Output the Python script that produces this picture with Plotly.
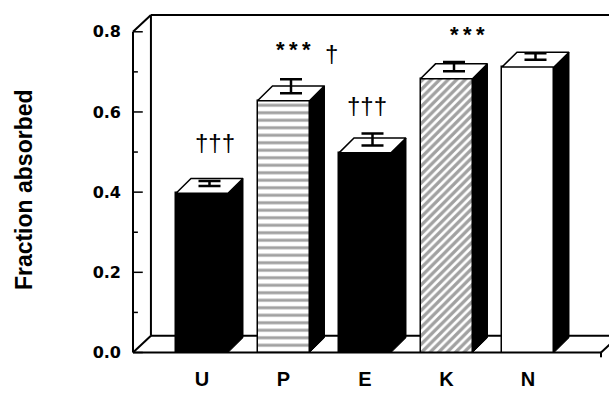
import plotly.graph_objects as go

# ---- data ----
categories = ["U", "P", "E", "K", "N"]
fraction = [0.397, 0.628, 0.498, 0.683, 0.712]
sem = [0.012, 0.035, 0.030, 0.023, 0.016]
fills = ["black", "white", "black", "white", "white"]
patterns = ["", "-", "", "/", ""]
sig_text = ["†††", "*\u2009*\u2009*", "†", "†††", "*\u2009*\u2009*"]
sig_x = [0.16, 1.117, 1.59, 2.025, 3.258]
sig_y = [0.523, 0.759, 0.747, 0.615, 0.794]
y_ticks = [0.0, 0.2, 0.4, 0.6, 0.8]
y_minor = [0.1, 0.3, 0.5, 0.7]

# ---- geometry (style) ----
xpos = list(range(len(categories)))
W = 0.638              # bar front width (x units)
DX, DY = 0.184, 0.037  # bar depth offsets
WX, WY = 0.22, 0.042   # wall depth offsets
X0, X1 = -0.9448, 4.9939
Y0, Y1 = -0.0212, 0.8693
XL = -0.8466           # front-left axis position
XR = 4.896             # front-right floor end
FONT = "Liberation Sans, Arial, Helvetica, sans-serif"
TICKFONT = "DejaVu Sans, Liberation Sans, sans-serif"

fig = go.Figure()

# front faces
fig.add_trace(go.Bar(
    x=xpos, y=fraction, width=W,
    marker=dict(
        color=fills,
        line=dict(color="black", width=1.5),
        pattern=dict(shape=patterns, fillmode="overlay", fgcolor="black",
                     size=[8, 7.5, 8, 6, 8], solidity=[0.3, 0.4, 0.3, 0.55, 0.3]),
    ),
    showlegend=False, hoverinfo="skip",
))

# side faces
sx, sy = [], []
for c, v in zip(xpos, fraction):
    r = c + W / 2
    sx += [r, r + DX, r + DX, r, r, None]
    sy += [0, DY, v + DY, v, 0, None]
fig.add_trace(go.Scatter(x=sx, y=sy, mode="lines", fill="toself",
                         fillcolor="black", line=dict(color="black", width=1),
                         showlegend=False, hoverinfo="skip"))

# top faces
tx, ty = [], []
for c, v in zip(xpos, fraction):
    l, r = c - W / 2, c + W / 2
    tx += [l, r, r + DX, l + DX, l, None]
    ty += [v, v, v + DY, v + DY, v, None]
fig.add_trace(go.Scatter(x=tx, y=ty, mode="lines", fill="toself",
                         fillcolor="white", line=dict(color="black", width=1.5),
                         showlegend=False, hoverinfo="skip"))

# error bars from the top-face centre
fig.add_trace(go.Scatter(
    x=[c + DX / 2 for c in xpos], y=[v + DY / 2 for v in fraction],
    mode="markers", marker=dict(size=1, color="rgba(0,0,0,0)"),
    error_y=dict(type="data", array=sem, arrayminus=[0] * len(sem),
                 symmetric=False, color="black", thickness=2.5, width=11),
    showlegend=False, hoverinfo="skip"))

# frame (pseudo-3D walls & floor)
LW = 2
segs = [
    (XL, 0, XL, 0.8),
    (XL, 0.8, XL + WX, 0.8 + WY),
    (XL + WX, WY, XL + WX, 0.8 + WY),
    (XL + WX, 0.8 + WY, X1 + 0.1, 0.8 + WY),
    (XL, 0, XR, 0),
    (XL + WX, WY, X1 + 0.1, WY),
    (XL, 0, XL + WX, WY),
    (XR, 0, XR + WX, WY),
    (XR, 0, XR, -0.012),
]
for x0, y0, x1, y1 in segs:
    fig.add_shape(type="line", x0=x0, y0=y0, x1=x1, y1=y1, xref="x", yref="y",
                  line=dict(color="black", width=LW), layer="below")
# y tick marks (inside)
for t in y_ticks:
    fig.add_shape(type="line", x0=XL, x1=XL + 0.12, y0=t, y1=t,
                  line=dict(color="black", width=1.5), layer="below")
for t in y_minor:
    fig.add_shape(type="line", x0=XL, x1=XL + 0.06, y0=t, y1=t,
                  line=dict(color="black", width=1.5), layer="below")

# significance marks
for t, x, y in zip(sig_text, sig_x, sig_y):
    star = "*" in t
    fig.add_annotation(x=x, y=y - (0.002 if star else 0), text=t, showarrow=False,
                       xanchor="center", yanchor="middle",
                       font=dict(family=FONT, size=22 if star else 24,
                                 color="#000000",
                                 weight="bold" if star else "normal"))

# y title
fig.add_annotation(xref="paper", yref="paper", x=-0.24, y=0.481,
                   text="Fraction absorbed", textangle=-90, showarrow=False,
                   font=dict(family=FONT, size=23, color="black", weight="bold"))

fig.update_layout(
    width=609, height=394,
    margin=dict(l=125, r=0, t=4, b=33),
    plot_bgcolor="white", paper_bgcolor="white",
    bargap=0,
    xaxis=dict(range=[X0, X1], tickvals=xpos, ticktext=categories,
               showline=False, showgrid=False, zeroline=False, ticks="",
               ticklabelstandoff=4,
               tickfont=dict(family=FONT, size=20, color="black", weight="bold"),
               fixedrange=True),
    yaxis=dict(range=[Y0, Y1], tickvals=y_ticks,
               ticktext=[f"{t:.1f}" for t in y_ticks],
               showline=False, showgrid=False, zeroline=False, ticks="",
               ticklabelstandoff=3,
               tickfont=dict(family=TICKFONT, size=16, color="black", weight="bold"),
               fixedrange=True),
)

fig.write_html(
    "out.html",
    config={"displayModeBar": False},
    post_script="document.body.style.margin='0';document.body.style.overflow='hidden';",
)
